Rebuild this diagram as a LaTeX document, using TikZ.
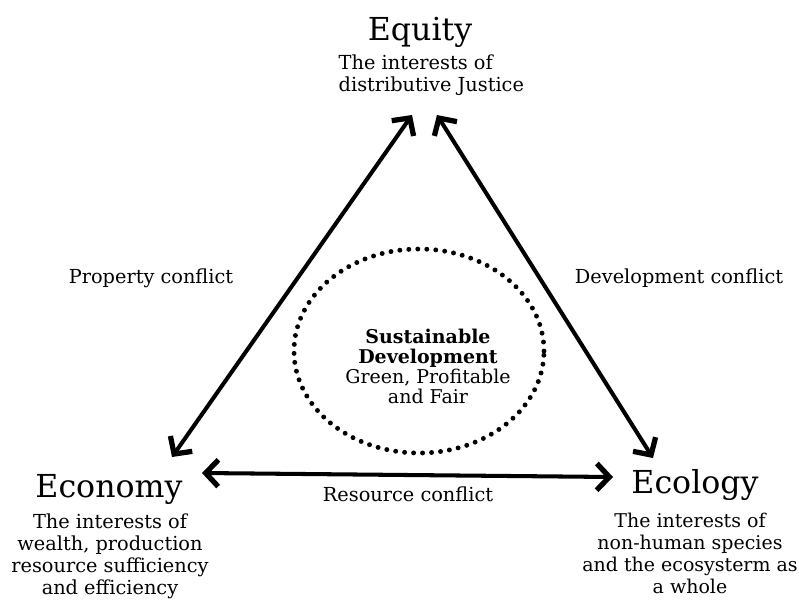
\documentclass[tikz,border=0pt]{standalone}
\usepackage{fontspec}
\setmainfont{DejaVu Serif}
\usetikzlibrary{positioning,arrows.meta}

\tikzset{
  pillar/.style={inner sep=0pt,font=\fontsize{9}{10}\selectfont},
  interest/.style={inner sep=0pt,align=center,font=\fontsize{5.5}{6.26}\selectfont},
  conflict/.style={inner sep=0pt,font=\fontsize{5.5}{6.26}\selectfont},
  clash/.style={line width=1.15pt,{Straight Barb[length=3.6pt,width=7.6pt,line width=1.5pt]}-{Straight Barb[length=3.6pt,width=7.6pt,line width=1.5pt]}}
}

\begin{document}
\begin{tikzpicture}
        \useasboundingbox (0,0) rectangle (7.99,5.99);
        % the three pillars
        \node[pillar,anchor=base] (equity) at (4.20,5.59) {Equity};
        \node[interest,align=left,anchor=north west] (equitytxt) at (3.38,5.45) {The interests of\\distributive Justice};
        \node[pillar,anchor=base] (economy) at (1.09,1.02) {Economy};
        \node[interest,anchor=north] (economytxt) at (1.10,0.86) {The interests of\\wealth, production\\resource sufficiency\\and efficiency};
        \node[pillar,anchor=base] (ecology) at (6.95,1.06) {Ecology};
        \node[interest,anchor=north,font=\fontsize{5.4}{6.26}\selectfont] (ecologytxt) at (6.90,0.87) {The interests of\\non-human species\\and the ecosysterm as\\a whole};
        % conflicts
        \node[conflict,anchor=base] (property) at (1.51,3.16) {Property conflict};
        \node[conflict,anchor=base] (develop) at (6.79,3.16) {Development conflict};
        \node[conflict,anchor=base] (resource) at (4.08,0.98) {Resource conflict};
        % centre
        \draw[line width=1.4pt,line cap=round,dash pattern=on 0pt off 2.56pt] (4.19,2.48) ellipse (1.25 and 1.02);
        \node[interest,anchor=north,font=\fontsize{5.4}{5.7}\selectfont] (sustain) at (4.28,2.71) {\textbf{Sustainable}\\\textbf{Development}\\Green, Profitable\\and Fair};
        % arrow ends
        \coordinate (eqL) at (4.12,4.84);
        \coordinate (eqR) at (4.37,4.84);
        \coordinate (ecoT) at (1.72,1.42);
        \coordinate (ecoR) at (2.02,1.26);
        \coordinate (ecolT) at (6.53,1.41);
        \coordinate (ecolL) at (6.13,1.22);
        \draw[clash] (ecoT) -- (eqL);
        \draw[clash] (ecolT) -- (eqR);
        \draw[clash] (ecoR) -- (ecolL);
      \end{tikzpicture}
\end{document}
